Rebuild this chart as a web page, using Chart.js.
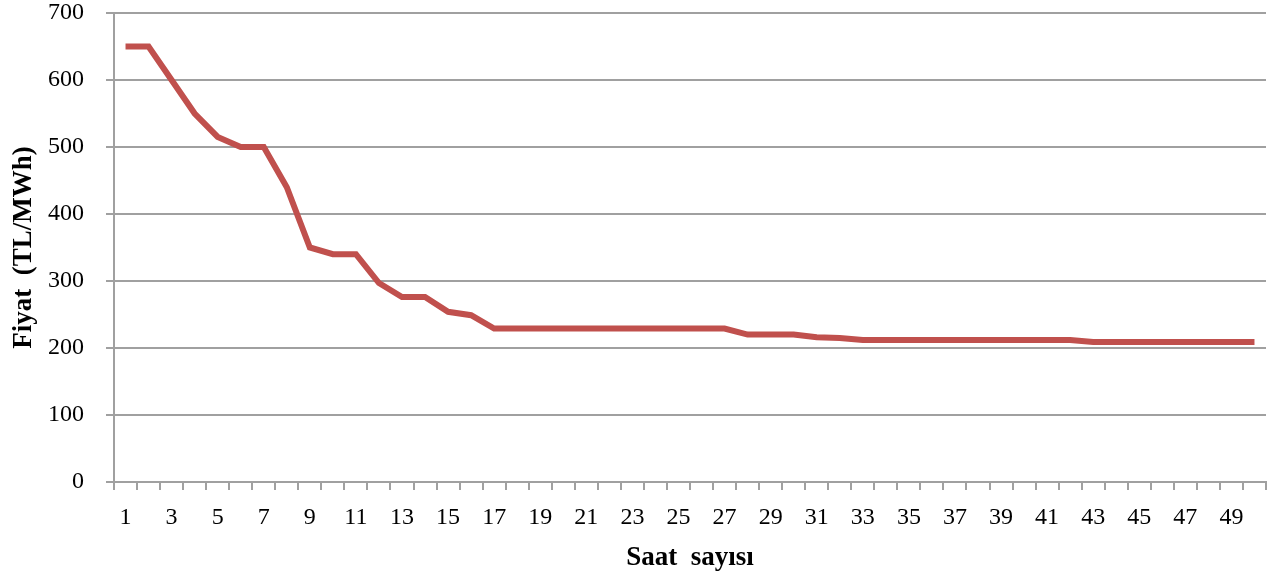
<!DOCTYPE html>
<html>
<head>
<meta charset="utf-8">
<script src="https://cdn.jsdelivr.net/npm/chart.js@4/dist/chart.umd.min.js"></script>
<style>
  html, body { margin: 0; padding: 0; background: #ffffff; }
  #wrap { width: 1271px; height: 577px; position: relative; }
</style>
</head>
<body>
<div id="wrap"><canvas id="c" width="1271" height="577"></canvas></div>
<script>
// Hour index (1..50) and hourly price in TL/MWh
const hours = Array.from({ length: 50 }, (_, i) => String(i + 1));
const prices = [
  650, 650, 600, 550, 515, 500, 500, 440, 350, 340,
  340, 297, 276, 276, 254, 249, 229, 229, 229, 229,
  229, 229, 229, 229, 229, 229, 229, 220, 220, 220,
  216, 215, 212, 212, 212, 212, 212, 212, 212, 212,
  212, 212, 209, 209, 209, 209, 209, 209, 209, 209
];
const yTicks = [0, 100, 200, 300, 400, 500, 600, 700];

const xTitle = 'Saat  sayısı';
const yTitle = 'Fiyat  (TL/MWh)';

const gridGray = '#a0a0a0';
const serif = "'Liberation Serif', 'Times New Roman', serif";

new Chart(document.getElementById('c'), {
  type: 'line',
  data: {
    labels: hours,
    datasets: [{
      data: prices,
      borderColor: '#c0504d',
      borderWidth: 6,
      pointRadius: 0,
      tension: 0,
      fill: false
    }]
  },
  options: {
    responsive: false,
    animation: false,
    layout: { padding: { left: 0, right: 5, top: 13, bottom: 0 } },
    plugins: { legend: { display: false }, tooltip: { enabled: false } },
    scales: {
      x: {
        type: 'category',
        offset: true,
        grid: {
          offset: true,
          drawOnChartArea: false,
          drawTicks: true,
          tickLength: 8,
          color: gridGray,
          lineWidth: 2
        },
        border: { color: gridGray, width: 2 },
        ticks: {
          autoSkip: false,
          maxRotation: 0,
          padding: 13,
          color: '#000000',
          font: { family: serif, size: 24 },
          callback: function (value, index) {
            return index % 2 === 0 ? this.getLabelForValue(value) : '';
          }
        },
        title: {
          display: true,
          text: xTitle,
          color: '#000000',
          font: { family: serif, size: 27, weight: 'bold' },
          padding: { top: 4, bottom: 3 }
        },
        afterFit: (s) => { s.height = 95; s.paddingLeft = 0; s.paddingRight = 0; }
      },
      y: {
        min: 0,
        max: 700,
        afterBuildTicks: (s) => { s.ticks = yTicks.map(v => ({ value: v })); },
        grid: {
          color: gridGray,
          lineWidth: 2,
          drawTicks: true,
          tickLength: 8
        },
        border: { color: gridGray, width: 2 },
        ticks: {
          padding: 22,
          color: '#000000',
          font: { family: serif, size: 24 }
        },
        title: {
          display: true,
          text: yTitle,
          color: '#000000',
          font: { family: serif, size: 27, weight: 'bold' },
          padding: { top: 8, bottom: 0 }
        },
        afterFit: (s) => { s.width = 114; s.paddingTop = 0; s.paddingBottom = 0; }
      }
    }
  }
});
</script>
</body>
</html>
